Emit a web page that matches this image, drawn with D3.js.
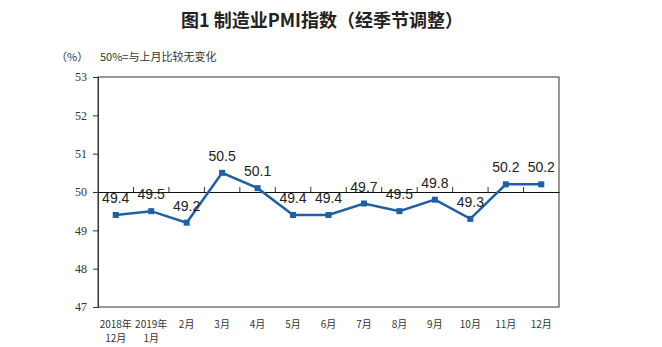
<!DOCTYPE html>
<html><head><meta charset="utf-8">
<script src="https://cdn.jsdelivr.net/npm/d3@7/dist/d3.min.js"></script>
<style>body{margin:0;background:#fff}svg{display:block}</style>
</head><body>
<svg id="c" width="662" height="347"></svg>
<script>
const categories = ["2018年\n12月","2019年\n1月","2月","3月","4月","5月","6月","7月","8月","9月","10月","11月","12月"];
const values = [49.4,49.5,49.2,50.5,50.1,49.4,49.4,49.7,49.5,49.8,49.3,50.2,50.2];
const yTicks = [47,48,49,50,51,52,53];
const title = "图1 制造业PMI指数（经季节调整）";
const unitLabel = "（%）";
const note = "50%=与上月比较无变化";

const svg = d3.select("#c");
const L=98,R=559,T=77,B=307;
const x = d3.scaleBand().domain(categories).range([L,R]);
const y = d3.scaleLinear().domain([47,53]).range([B,T]);
const lineColor = "#1f5fa3";
const cjk = "'Noto Sans CJK SC', sans-serif";

svg.append("text").attr("x",322).attr("y",27).attr("text-anchor","middle")
  .attr("font-family",cjk).attr("font-size",18).attr("font-weight","bold").attr("fill","#222").text(title);
svg.append("text").attr("x",56).attr("y",61).attr("font-family",cjk).attr("font-size",11).attr("fill","#333").text(unitLabel);
svg.append("text").attr("x",100).attr("y",61).attr("font-family",cjk).attr("font-size",11).attr("fill","#333").text(note);

// frame
svg.append("rect").attr("x",L).attr("y",T).attr("width",R-L).attr("height",B-T)
  .attr("fill","none").attr("stroke","#333").attr("stroke-width",1);

// y axis
const yAxis = svg.append("g").attr("transform",`translate(${L},0)`)
  .call(d3.axisLeft(y).tickValues(yTicks).tickSize(5).tickFormat(d3.format("d")));
yAxis.select(".domain").attr("stroke","#333");
yAxis.selectAll(".tick line").attr("stroke","#333");
yAxis.selectAll("text").attr("font-family","'Liberation Serif', serif").attr("font-size",12).attr("fill","#333").attr("dx","-3");

// category axis at 50
const xAxis = svg.append("g").attr("transform",`translate(0,${y(50)})`)
  .call(d3.axisTop(x).tickSize(0).tickFormat(""));
xAxis.select(".domain").attr("stroke","#111");
const bounds = categories.slice(1).map(c=>x(c));
xAxis.selectAll(".bt").data(bounds).enter().append("line")
  .attr("x1",d=>d).attr("x2",d=>d).attr("y1",0).attr("y2",-5).attr("stroke","#333");

// x labels at bottom
const lab = svg.append("g");
categories.forEach(c=>{
  const parts=c.split("\n");
  const t=lab.append("text").attr("x",x(c)+x.bandwidth()/2).attr("y",328)
    .attr("text-anchor","middle").attr("font-family",cjk).attr("font-size",10).attr("fill","#333");
  parts.forEach((p,i)=>t.append("tspan").attr("x",x(c)+x.bandwidth()/2).attr("dy",i?14:0).text(p));
});

const cx = (d,i)=>x(categories[i])+x.bandwidth()/2;
svg.append("path").datum(values).attr("fill","none").attr("stroke",lineColor).attr("stroke-width",2.5)
  .attr("d",d3.line().x(cx).y(d=>y(d)));
svg.selectAll(".m").data(values).enter().append("rect")
  .attr("x",(d,i)=>cx(d,i)-3).attr("y",d=>y(d)-3).attr("width",6).attr("height",6).attr("fill",lineColor);
svg.selectAll(".v").data(values).enter().append("text")
  .attr("x",cx).attr("y",d=>y(d)-12).attr("text-anchor","middle")
  .attr("font-family","'Liberation Sans', Arial, sans-serif").attr("font-size",14).attr("fill","#222")
  .text(d=>d3.format(".1f")(d));
</script>
</body></html>
